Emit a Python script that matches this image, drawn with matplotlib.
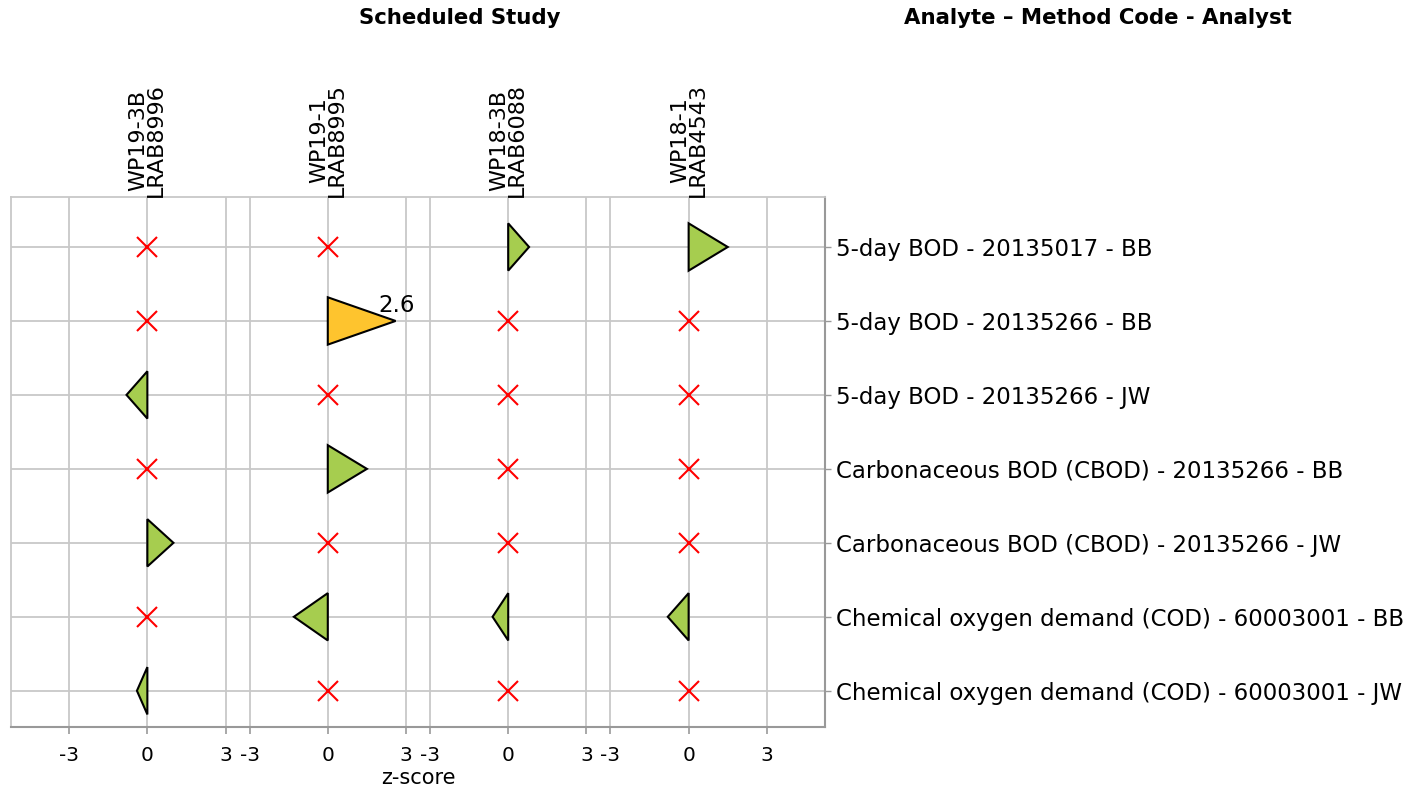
import numpy as np
import matplotlib
matplotlib.use("Agg")
import matplotlib.pyplot as plt
from matplotlib.patches import Polygon

plt.rcParams['font.family'] = ['DejaVu Sans']

# studies (columns) and analyte rows
studies = ["WP19-3B\nLRAB8996", "WP19-1\nLRAB8995", "WP18-3B\nLRAB6088", "WP18-1\nLRAB4543"]
analytes = [
    "5-day BOD - 20135017 - BB",
    "5-day BOD - 20135266 - BB",
    "5-day BOD - 20135266 - JW",
    "Carbonaceous BOD (CBOD) - 20135266 - BB",
    "Carbonaceous BOD (CBOD) - 20135266 - JW",
    "Chemical oxygen demand (COD) - 60003001 - BB",
    "Chemical oxygen demand (COD) - 60003001 - JW",
]

# z-scores per study, None = not reported
z_wp19_3b = [None, None, -0.8, None, 1.0, None, -0.4]
z_wp19_1 = [None, 2.6, None, 1.5, None, -1.3, None]
z_wp18_3b = [0.8, None, None, None, None, -0.6, None]
z_wp18_1 = [1.5, None, None, None, None, -0.8, None]
zscores = [z_wp19_3b, z_wp19_1, z_wp18_3b, z_wp18_1]

zticks = [-3, 0, 3]
warn_level = 2.0


def main():
    span = 6.92     # width of one study column in z units
    pad = 5.23      # space outside the outer columns
    half_h = 0.32   # half height of a triangle in row units
    fs = 16.5

    fig = plt.figure(figsize=(14.15, 7.88), dpi=100)
    ax = fig.add_axes([11/1415, 1 - 727/788, (825 - 11)/1415, (727 - 197)/788])

    nrow = len(analytes)
    ax.set_xlim(-pad, span*(len(studies) - 1) + pad)
    ax.set_ylim(nrow - 1 + 0.49, -0.676)

    xt = []
    xl = []
    for i in range(len(studies)):
        for t in zticks:
            xt.append(i*span + t)
            xl.append(str(t))
    ax.set_xticks(xt)
    ax.set_xticklabels(xl, fontsize=14.5)
    ax.set_yticks(np.arange(nrow))
    ax.set_yticklabels(analytes, fontsize=fs)
    ax.yaxis.tick_right()

    ax.grid(True, color='#c8c8c8', lw=1.3, zorder=0)
    ax.set_axisbelow(True)
    for s in ['top', 'left']:
        ax.spines[s].set_color('#c8c8c8')
        ax.spines[s].set_linewidth(1.3)
    for s in ['bottom', 'right']:
        ax.spines[s].set_color('#999999')
        ax.spines[s].set_linewidth(1.5)
    ax.tick_params(axis='x', colors='#999999', length=5, width=1.2, labelcolor='k', pad=9)
    ax.tick_params(axis='y', colors='#999999', length=4, width=1.0, labelcolor='k', pad=4)

    for i, zs in enumerate(zscores):
        x0 = i*span
        for r, z in enumerate(zs):
            if z is None:
                ax.plot(x0, r, marker='x', color='red', ms=15, mew=1.5, ls='none', zorder=3)
                continue
            fc = '#a6cd4f'
            if abs(z) >= warn_level:
                fc = '#fec42e'
            tri = Polygon([[x0, r - half_h], [x0, r + half_h], [x0 + z, r]],
                          closed=True, facecolor=fc, edgecolor='k', lw=1.5, zorder=4)
            ax.add_patch(tri)
            if abs(z) >= warn_level:
                ax.annotate("{0:.1f}".format(z), (x0 + z, r), xytext=(1, 3),
                            textcoords='offset points', ha='center', va='bottom',
                            fontsize=fs, zorder=5)

        # study name above each column
        ax.text(x0, -0.676, studies[i], rotation=90, ha='center', va='bottom',
                fontsize=16, linespacing=0.85)

    ax.set_xlabel("z-score", fontsize=15, labelpad=2)

    fig.text(460/1415, 1 - 18/788, "Scheduled Study", ha='center', va='center',
             fontsize=15.3, fontweight='bold')
    fig.text(1098/1415, 1 - 18/788, "Analyte \u2013 Method Code - Analyst", ha='center',
             va='center', fontsize=15.3, fontweight='bold')

    fig.savefig("out.png", dpi=100)


main()
